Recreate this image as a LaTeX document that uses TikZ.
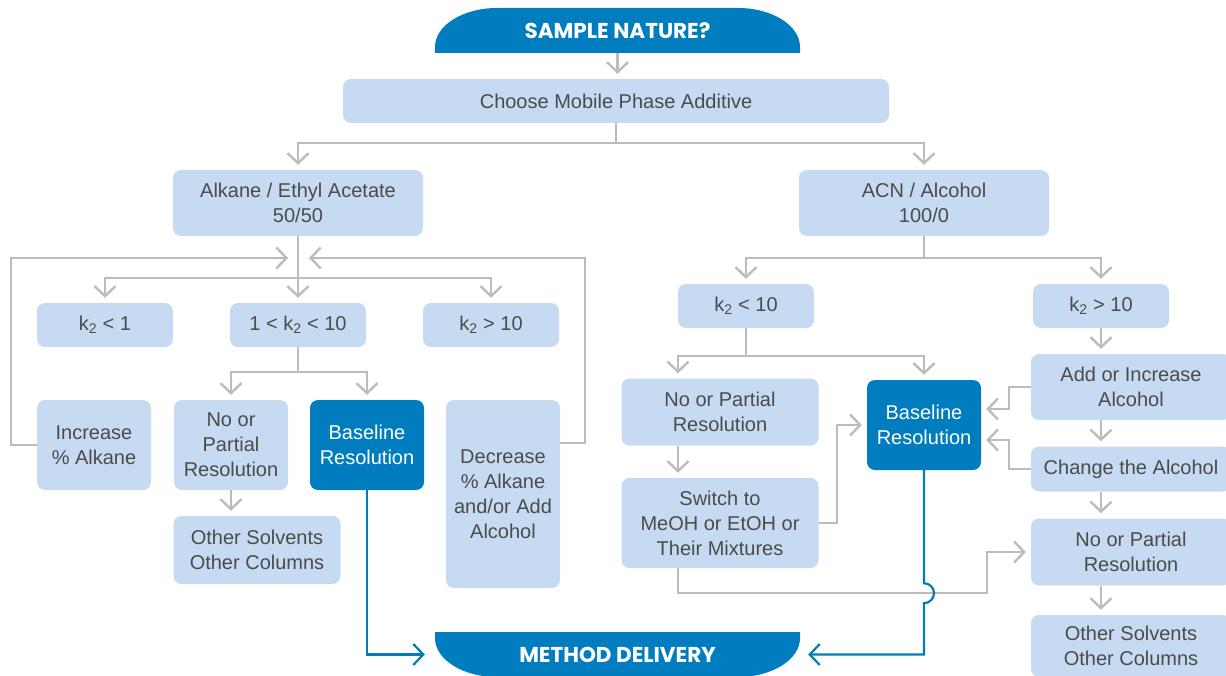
\documentclass[tikz,border=0pt]{standalone}
\usepackage{fontspec}
\setmainfont{Liberation Sans}
\newfontfamily\headfont{Poppins}
\usetikzlibrary{arrows.meta,calc}
\definecolor{lbl}{RGB}{198,219,241}
\definecolor{dbl}{RGB}{0,125,190}
\definecolor{gln}{RGB}{188,188,188}
\definecolor{txc}{RGB}{75,75,75}
\begin{document}
\begin{tikzpicture}[x=1pt,y=-1pt,
  box/.style={fill=lbl, rounded corners=8pt, text=txc, align=center, inner sep=0pt, font=\fontsize{20}{25}\selectfont},
  dbox/.style={box, fill=dbl, text=white},
  hbox/.style={inner sep=0pt, text=white, minimum width=365, minimum height=45, font=\headfont\bfseries\fontsize{21.5}{24}\selectfont},
  gline/.style={draw=gln, line width=2.4pt},
  ga/.style={gline, -{Straight Barb[length=10pt,width=21pt,line width=2.4pt]}, shorten >=5pt},
  ba/.style={draw=dbl, line width=2.2pt, -{Straight Barb[length=10pt,width=21pt,line width=2.2pt]}}
]
\useasboundingbox (0,0) rectangle (1226,676);

% header shapes
\fill[dbl] (435,53) -- (435,47) .. controls (435,25.5) and (462.8,8) .. (497,8) -- (738,8) .. controls (772.2,8) and (800,25.5) .. (800,47) -- (800,53) -- cycle;
\fill[dbl] (435,632) -- (800,632) -- (800,638) .. controls (800,659.5) and (772.2,677) .. (738,677) -- (497,677) .. controls (462.8,677) and (435,659.5) .. (435,638) -- cycle;
\node[hbox] (sample) at (617.5,30.5) {SAMPLE NATURE?};
\node[hbox] (method) at (617.5,654.5) {METHOD DELIVERY};

% boxes
\node[box, minimum width=546, minimum height=44] (choose) at (616,101) {Choose Mobile Phase Additive};
\node[box, minimum width=250, minimum height=66] (alk) at (298,203) {Alkane / Ethyl Acetate\\50/50};
\node[box, minimum width=250, minimum height=66] (acn) at (924,203) {ACN / Alcohol\\100/0};

\node[box, minimum width=136, minimum height=44] (k1) at (105,325) {k\textsubscript{2} < 1};
\node[box, minimum width=136, minimum height=44] (kmid) at (298,325) {1 < k\textsubscript{2} < 10};
\node[box, minimum width=136, minimum height=44] (k10L) at (491,325) {k\textsubscript{2} > 10};

\node[box, minimum width=114, minimum height=90] (inc) at (94,445) {Increase\\\% Alkane};
\node[box, minimum width=114, minimum height=90] (npL) at (231,445) {No or\\Partial\\Resolution};
\node[dbox, minimum width=114, minimum height=90] (blL) at (367,445) {Baseline\\Resolution};
\node[box, minimum width=114, minimum height=188] (dec) at (503,494) {Decrease\\\% Alkane\\and/or Add\\Alcohol};
\node[box, minimum width=167, minimum height=68] (osL) at (257,550) {Other Solvents\\Other Columns};

\node[box, minimum width=136, minimum height=44] (kl10) at (746,306) {k\textsubscript{2} < 10};
\node[box, minimum width=136, minimum height=44] (kg10) at (1101,306) {k\textsubscript{2} > 10};
\node[box, minimum width=197, minimum height=67] (npM) at (720,412) {No or Partial\\Resolution};
\node[dbox, minimum width=114, minimum height=90] (blR) at (924,425) {Baseline\\Resolution};
\node[box, minimum width=197, minimum height=90] (sw) at (720,523) {Switch to\\MeOH or EtOH or\\Their Mixtures};
\node[box, minimum width=200, minimum height=66] (add) at (1131,387) {Add or Increase\\Alcohol};
\node[box, minimum width=200, minimum height=45] (chg) at (1131,469) {Change the Alcohol};
\node[box, minimum width=200, minimum height=67] (npR) at (1131,552) {No or Partial\\Resolution};
\node[box, minimum width=200, minimum height=62] (osR) at (1131,646) {Other Solvents\\Other Columns};

% top connectors
\draw[ga] (sample.south) -- (sample.south |- choose.north);
\coordinate (c1) at (616,143);
\draw[gline] (choose.south) -- (c1);
\draw[ga] (c1) -| (alk.north);
\draw[ga] (c1) -| (acn.north);

% left part
\coordinate (c2) at (298,278);
\draw[ga] (alk.south) -- (kmid.north);
\draw[ga] (c2) -| (k1.north);
\draw[ga] (c2) -| (k10L.north);
\coordinate (jL) at (288,258);
\coordinate (jR) at (309,258);
\draw[ga, shorten >=0pt] (inc.west) -- ++(-26,0) |- (jL);
\draw[ga, shorten >=0pt] ([yshift=-43pt]dec.north east) -- ++(25,0) |- (jR);
\coordinate (c3) at (298,372);
\draw[gline] (kmid.south) -- (c3);
\draw[ga] (c3) -| (npL.north);
\draw[ga] (c3) -| (blL.north);
\draw[ga] (npL.south) -- (npL.south |- osL.north);
\draw[ba, shorten >=10pt] (blL.south) |- (method.west);

% right part
\coordinate (c4) at (924,258);
\draw[gline] (acn.south) -- (c4);
\draw[ga] (c4) -| (kl10.north);
\draw[ga] (c4) -| (kg10.north);
\coordinate (c5) at (746,356);
\draw[gline] (kl10.south) -- (c5);
\draw[ga] (c5) -| ([xshift=-42pt]npM.north);
\draw[ga] (c5) -| (blR.north);
\draw[ga] ([xshift=-42pt]npM.south) -- ([xshift=-42pt]sw.north);
\draw[ga] (sw.east) -- ++(18,0) |- (blR.west);
\draw[ga] (kg10.south) -- (kg10.south |- add.north);
\draw[ga] (add.west) -- ++(-22,0) |- ([yshift=16pt]blR.east);
\draw[ga] (chg.west) -- ++(-22,0) |- ([yshift=-15pt]blR.east);
\draw[ga] (kg10.south |- add.south) -- (kg10.south |- chg.north);
\draw[ga] (kg10.south |- chg.south) -- (kg10.south |- npR.north);
\draw[ga] (kg10.south |- npR.south) -- (kg10.south |- osR.north);
\coordinate (c8) at (987,593);
\draw[ga] ([xshift=-42pt]sw.south) |- (c8) |- (npR.west);
\draw[ba, shorten >=8pt] (blR.south) -- ++(0,113) arc[start angle=90, end angle=-90, radius=10pt] |- (method.east);
\end{tikzpicture}
\end{document}
